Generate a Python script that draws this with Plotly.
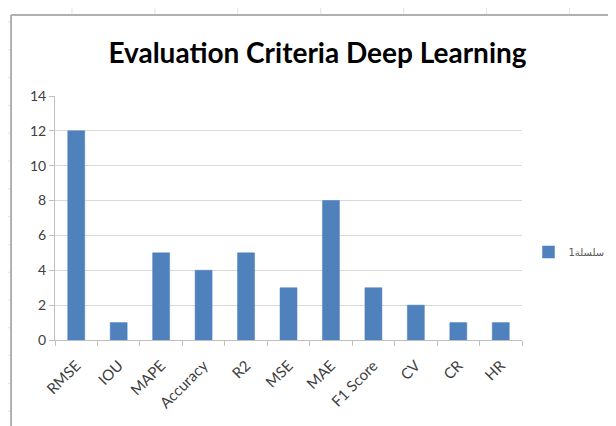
import plotly.graph_objects as go

categories = ["RMSE", "IOU", "MAPE", "Accuracy", "R2", "MSE", "MAE", "F1 Score", "CV", "CR", "HR"]
values = [12, 1, 5, 4, 5, 3, 8, 3, 2, 1, 1]
series_name = "سلسلة1"
title_text = "Evaluation Criteria Deep Learning"
y_ticks = [0, 2, 4, 6, 8, 10, 12, 14]

# the page body adds an 8px margin; work in window pixels and shift
OFF = 8
W, H = 616 - OFF, 426 - OFF
L, R, T, B = 55 - OFF, 616 - 522.5, 96 - OFF, 426 - 340
pw, ph = W - L - R, H - T - B

def px(x):
    return (x - OFF - L) / pw

def py(y):
    return (H - B - (y - OFF)) / ph

fig = go.Figure()
fig.add_trace(go.Bar(
    x=categories, y=values, name=series_name,
    marker=dict(color="#4f81bd", line=dict(color="#4a7ebb", width=0.5)),
    showlegend=True,
))

shapes = []
frame_col = "#b0b0b0"
shapes.append(dict(type="line", xref="paper", yref="paper", x0=px(11), x1=px(630), y0=py(15), y1=py(15),
                   line=dict(color=frame_col, width=2)))
shapes.append(dict(type="line", xref="paper", yref="paper", x0=px(11), x1=px(11), y0=py(15), y1=py(440),
                   line=dict(color=frame_col, width=2)))
grid_col = "#e3e3e3"
for i in range(7):
    gx = 72 + i * 83
    shapes.append(dict(type="line", xref="paper", yref="paper", x0=px(gx), x1=px(gx), y0=py(8), y1=py(14),
                       line=dict(color=grid_col, width=1)))
for i in range(15):
    gy = 22 + i * 27.8
    shapes.append(dict(type="line", xref="paper", yref="paper", x0=px(8), x1=px(10), y0=py(gy), y1=py(gy),
                       line=dict(color=grid_col, width=1)))

fig.update_layout(
    width=W, height=H,
    margin=dict(l=L, r=R, t=T, b=B, autoexpand=False),
    paper_bgcolor="white", plot_bgcolor="white",
    bargap=0.6,
    font=dict(family="Lato, Carlito, Calibri, sans-serif", color="#595959", size=13),
    title=dict(text="<b>" + title_text + "</b>", x=(317.5 - OFF) / W, xanchor="center",
               y=1 - (53 - OFF) / H, yanchor="middle", yref="container",
               font=dict(size=28, color="#000000", family="Lato, Calibri, sans-serif")),
    xaxis=dict(
        type="category", tickangle=-45, showgrid=False,
        showline=True, linecolor="#bfbfbf", linewidth=1,
        ticks="outside", tickson="boundaries", ticklen=5, tickcolor="#bfbfbf",
        ticklabelstandoff=10,
        tickfont=dict(size=15, color="#404040"),
    ),
    yaxis=dict(
        range=[0, 14], tickvals=y_ticks, showgrid=True, gridcolor="#d9d9d9", gridwidth=1,
        showline=True, linecolor="#bfbfbf", linewidth=1,
        ticks="outside", ticklen=5, tickcolor="#bfbfbf", zeroline=False,
        tickfont=dict(size=14, color="#404040"),
    ),
    legend=dict(x=px(529), y=py(252), xanchor="left", yanchor="middle",
                font=dict(size=10, color="#595959", family="DejaVu Sans, sans-serif"),
                bgcolor="rgba(0,0,0,0)"),
    shapes=shapes,
)

fig.write_html("out.html")
